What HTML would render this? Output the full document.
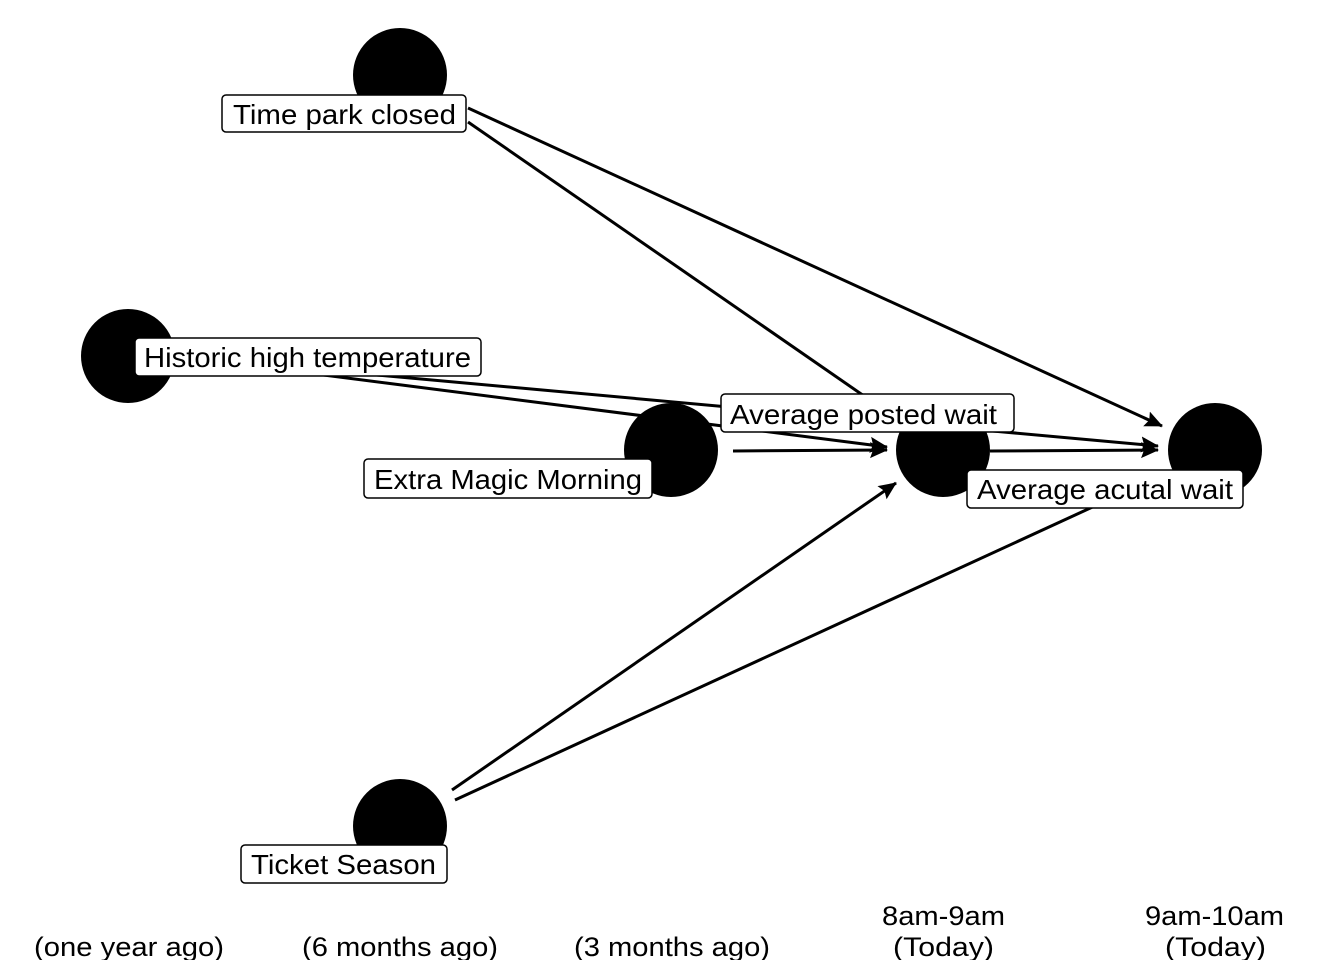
<!DOCTYPE html>
<html><head><style>body{margin:0;background:#fff}svg{display:block}</style></head>
<body>
<svg width="1344" height="960" xmlns="http://www.w3.org/2000/svg" font-family="Liberation Sans, sans-serif">
<defs>
<marker id="a" markerWidth="18" markerHeight="18" refX="17" refY="9" orient="auto" markerUnits="userSpaceOnUse" viewBox="0 0 18 18">
<path d="M0,1 L18,9 L0,17 L3,9 z" fill="#000"/>
</marker>
</defs>
<g fill="#000">
<circle cx="400" cy="75" r="47"/>
<circle cx="128" cy="356" r="47"/>
<circle cx="671" cy="450" r="47"/>
<circle cx="943" cy="450" r="47"/>
<circle cx="1215" cy="450" r="47"/>
<circle cx="400" cy="826" r="47"/>
</g>
<g stroke="#000" stroke-width="3" fill="none">
<line x1="468" y1="108" x2="1162" y2="426" marker-end="url(#a)"/>
<line x1="468" y1="122" x2="893" y2="416" marker-end="url(#a)"/>
<line x1="300" y1="372" x2="887" y2="447" marker-end="url(#a)"/>
<line x1="300" y1="368" x2="1158" y2="446" marker-end="url(#a)"/>
<line x1="733" y1="451" x2="887" y2="450" marker-end="url(#a)"/>
<line x1="990" y1="451" x2="1158" y2="450" marker-end="url(#a)"/>
<line x1="452" y1="790" x2="896" y2="483" marker-end="url(#a)"/>
<line x1="455" y1="800" x2="1160" y2="476"/>
</g>
<g stroke="#000" stroke-width="1.5" fill="#fff">
<rect x="222" y="95" width="244" height="37" rx="4"/>
<rect x="135" y="338" width="346" height="38" rx="4"/>
<rect x="721" y="394" width="293" height="38" rx="4"/>
<rect x="364" y="459" width="288" height="39" rx="4"/>
<rect x="967" y="470" width="276" height="38" rx="4"/>
<rect x="241" y="845" width="206" height="38" rx="4"/>
</g>
<g font-size="28" fill="#000" lengthAdjust="spacingAndGlyphs">
<text x="233" y="124" textLength="223" lengthAdjust="spacingAndGlyphs">Time park closed</text>
<text x="144" y="367" textLength="327" lengthAdjust="spacingAndGlyphs">Historic high temperature</text>
<text x="730" y="424" textLength="267" lengthAdjust="spacingAndGlyphs">Average posted wait</text>
<text x="374" y="489" textLength="268" lengthAdjust="spacingAndGlyphs">Extra Magic Morning</text>
<text x="977" y="499" textLength="256" lengthAdjust="spacingAndGlyphs">Average acutal wait</text>
<text x="251" y="874" textLength="185" lengthAdjust="spacingAndGlyphs">Ticket Season</text>
</g>
<g font-size="27" fill="#000">
<text x="34" y="956" textLength="190" lengthAdjust="spacingAndGlyphs">(one year ago)</text>
<text x="302" y="956" textLength="196" lengthAdjust="spacingAndGlyphs">(6 months ago)</text>
<text x="574" y="956" textLength="196" lengthAdjust="spacingAndGlyphs">(3 months ago)</text>
<text x="882" y="925" textLength="123" lengthAdjust="spacingAndGlyphs">8am-9am</text>
<text x="893" y="956" textLength="101" lengthAdjust="spacingAndGlyphs">(Today)</text>
<text x="1145" y="925" textLength="139" lengthAdjust="spacingAndGlyphs">9am-10am</text>
<text x="1165" y="956" textLength="101" lengthAdjust="spacingAndGlyphs">(Today)</text>
</g>
</svg>
</body></html>
